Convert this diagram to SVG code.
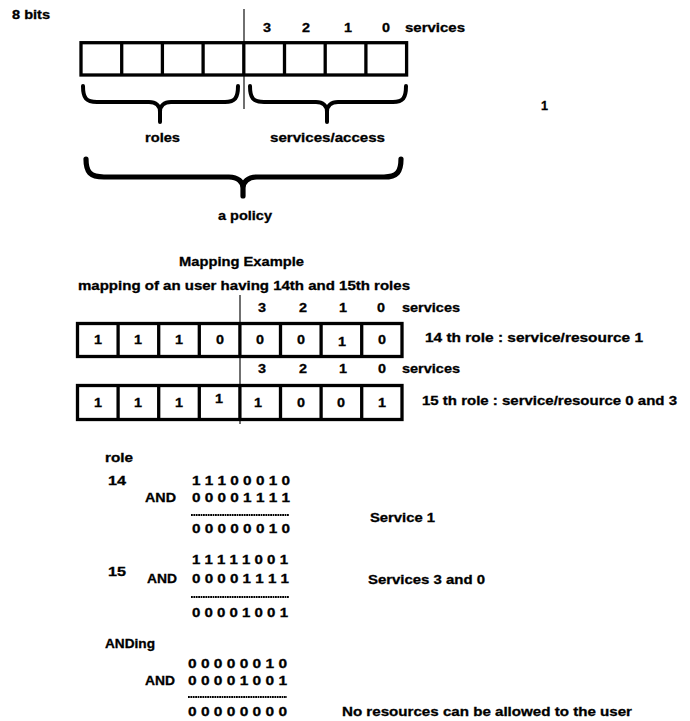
<svg xmlns="http://www.w3.org/2000/svg" width="690" height="721" viewBox="0 0 690 721">
  <style>
    text { font-family: "Liberation Sans", Arial, sans-serif; font-weight: bold; font-size: 12.5px; fill: #000; stroke: #000; stroke-width: 0.3px; }
    .cell { fill: #fff; stroke: #000; stroke-width: 3.3; }
    .div { stroke: #000; stroke-width: 3.3; }
    .split { stroke: #222; stroke-width: 1.3; }
    .brace { fill: none; stroke: #000; stroke-width: 4; stroke-linecap: round; stroke-linejoin: round; }
    .brace-big { fill: none; stroke: #000; stroke-width: 5.2; stroke-linecap: round; stroke-linejoin: round; }
    .rule { stroke: #000; stroke-width: 2; stroke-dasharray: 1.8 0.6; }
  </style>
  <rect width="690" height="721" fill="#fff"/>

  <!-- generic 8-bit policy layout -->
  <g id="policy-layout">
    <text x="12" y="19" textLength="38" lengthAdjust="spacingAndGlyphs">8 bits</text>
    <line class="split" x1="244" y1="9" x2="244" y2="109"/>
    <text x="263" y="32" textLength="8" lengthAdjust="spacingAndGlyphs">3</text>
    <text x="302" y="32" textLength="8" lengthAdjust="spacingAndGlyphs">2</text>
    <text x="344" y="32" textLength="8" lengthAdjust="spacingAndGlyphs">1</text>
    <text x="382" y="32" textLength="8" lengthAdjust="spacingAndGlyphs">0</text>
    <text x="405" y="32" textLength="60" lengthAdjust="spacingAndGlyphs">services</text>
    <rect class="cell" x="81" y="42.7" width="325.6" height="32.3"/>
    <g class="div">
      <line x1="121.7" y1="42.7" x2="121.7" y2="75"/>
      <line x1="162.4" y1="42.7" x2="162.4" y2="75"/>
      <line x1="203.1" y1="42.7" x2="203.1" y2="75"/>
      <line x1="243.8" y1="42.7" x2="243.8" y2="75"/>
      <line x1="284.5" y1="42.7" x2="284.5" y2="75"/>
      <line x1="325.2" y1="42.7" x2="325.2" y2="75"/>
      <line x1="365.9" y1="42.7" x2="365.9" y2="75"/>
    </g>
  </g>

  <g id="brace-roles">
    <path class="brace" d="M83,86 C83,98 86,102 97,102 L149,102 C156,102 160,106 160,112 L160,122 M160,112 C160,106 164,102 171,102 L225,102 C235,102 238,98 238,86"/>
    <text x="145" y="142" textLength="35" lengthAdjust="spacingAndGlyphs">roles</text>
  </g>
  <g id="brace-services">
    <path class="brace" d="M250,86 C250,98 253,102 264,102 L316,102 C323,102 327,106 327,112 L327,122 M327,112 C327,106 331,102 338,102 L393,102 C403,102 406,98 406,86"/>
    <text x="270" y="142" textLength="115" lengthAdjust="spacingAndGlyphs">services/access</text>
  </g>
  <g id="brace-policy">
    <path class="brace-big" d="M86,159 C86,172 90,177 104,177 L229,177 C238,177 243,182 243,188 L243,196 M243,188 C243,182 248,177 257,177 L384,177 C397,177 401,172 401,159"/>
    <text x="218" y="220" textLength="54" lengthAdjust="spacingAndGlyphs">a policy</text>
  </g>
  <g id="figure-number">
    <text x="541" y="110" textLength="7" lengthAdjust="spacingAndGlyphs">1</text>
  </g>

  <!-- mapping example -->
  <g id="mapping-title">
    <text x="179" y="266" textLength="125" lengthAdjust="spacingAndGlyphs">Mapping Example</text>
    <text x="78" y="290" textLength="332" lengthAdjust="spacingAndGlyphs">mapping of an user having 14th and 15th roles</text>
  </g>

  <line class="split" x1="240" y1="295" x2="240" y2="424"/>

  <g id="role-14">
    <text x="258" y="312" textLength="8" lengthAdjust="spacingAndGlyphs">3</text>
    <text x="299" y="312" textLength="8" lengthAdjust="spacingAndGlyphs">2</text>
    <text x="339" y="312" textLength="8" lengthAdjust="spacingAndGlyphs">1</text>
    <text x="377" y="312" textLength="8" lengthAdjust="spacingAndGlyphs">0</text>
    <text x="402" y="312" textLength="58" lengthAdjust="spacingAndGlyphs">services</text>
    <rect class="cell" x="77.5" y="323.5" width="324.5" height="33"/>
    <g class="div">
      <line x1="118.1" y1="323.5" x2="118.1" y2="356.5"/>
      <line x1="158.7" y1="323.5" x2="158.7" y2="356.5"/>
      <line x1="199.3" y1="323.5" x2="199.3" y2="356.5"/>
      <line x1="239.9" y1="323.5" x2="239.9" y2="356.5"/>
      <line x1="280.5" y1="323.5" x2="280.5" y2="356.5"/>
      <line x1="321.1" y1="323.5" x2="321.1" y2="356.5"/>
      <line x1="361.7" y1="323.5" x2="361.7" y2="356.5"/>
    </g>
    <text x="94" y="344" textLength="8" lengthAdjust="spacingAndGlyphs">1</text>
    <text x="134" y="344" textLength="8" lengthAdjust="spacingAndGlyphs">1</text>
    <text x="175" y="344" textLength="8" lengthAdjust="spacingAndGlyphs">1</text>
    <text x="216" y="344" textLength="8" lengthAdjust="spacingAndGlyphs">0</text>
    <text x="256" y="344" textLength="8" lengthAdjust="spacingAndGlyphs">0</text>
    <text x="297" y="344" textLength="8" lengthAdjust="spacingAndGlyphs">0</text>
    <text x="338" y="346" textLength="8" lengthAdjust="spacingAndGlyphs">1</text>
    <text x="378" y="344" textLength="8" lengthAdjust="spacingAndGlyphs">0</text>
    <text x="425" y="342" textLength="218" lengthAdjust="spacingAndGlyphs">14 th role :  service/resource 1</text>
  </g>

  <g id="role-15">
    <text x="258" y="373" textLength="8" lengthAdjust="spacingAndGlyphs">3</text>
    <text x="299" y="373" textLength="8" lengthAdjust="spacingAndGlyphs">2</text>
    <text x="339" y="373" textLength="8" lengthAdjust="spacingAndGlyphs">1</text>
    <text x="378" y="373" textLength="8" lengthAdjust="spacingAndGlyphs">0</text>
    <text x="402" y="373" textLength="58" lengthAdjust="spacingAndGlyphs">services</text>
    <rect class="cell" x="77.5" y="385.5" width="324.5" height="34"/>
    <g class="div">
      <line x1="118.1" y1="385.5" x2="118.1" y2="419.5"/>
      <line x1="158.7" y1="385.5" x2="158.7" y2="419.5"/>
      <line x1="199.3" y1="385.5" x2="199.3" y2="419.5"/>
      <line x1="239.9" y1="385.5" x2="239.9" y2="419.5"/>
      <line x1="280.5" y1="385.5" x2="280.5" y2="419.5"/>
      <line x1="321.1" y1="385.5" x2="321.1" y2="419.5"/>
      <line x1="361.7" y1="385.5" x2="361.7" y2="419.5"/>
    </g>
    <text x="94" y="407" textLength="8" lengthAdjust="spacingAndGlyphs">1</text>
    <text x="134" y="407" textLength="8" lengthAdjust="spacingAndGlyphs">1</text>
    <text x="175" y="407" textLength="8" lengthAdjust="spacingAndGlyphs">1</text>
    <text x="215" y="403" textLength="8" lengthAdjust="spacingAndGlyphs">1</text>
    <text x="254" y="407" textLength="8" lengthAdjust="spacingAndGlyphs">1</text>
    <text x="297" y="407" textLength="8" lengthAdjust="spacingAndGlyphs">0</text>
    <text x="337" y="407" textLength="8" lengthAdjust="spacingAndGlyphs">0</text>
    <text x="378" y="407" textLength="8" lengthAdjust="spacingAndGlyphs">1</text>
    <text x="422" y="405" textLength="255" lengthAdjust="spacingAndGlyphs">15 th role : service/resource 0 and 3</text>
  </g>

  <!-- bitwise AND working -->
  <g id="and-14">
    <text x="105" y="462" textLength="28" lengthAdjust="spacingAndGlyphs">role</text>
    <text x="108" y="485" textLength="18" lengthAdjust="spacingAndGlyphs">14</text>
    <text x="192" y="485" textLength="98" lengthAdjust="spacingAndGlyphs">1 1 1 0 0 0 1 0</text>
    <text x="145" y="502" textLength="31" lengthAdjust="spacingAndGlyphs">AND</text>
    <text x="192" y="502" textLength="98" lengthAdjust="spacingAndGlyphs">0 0 0 0 1 1 1 1</text>
    <line class="rule" x1="191" y1="515" x2="289" y2="515"/>
    <text x="192" y="533" textLength="98" lengthAdjust="spacingAndGlyphs">0 0 0 0 0 0 1 0</text>
    <text x="370" y="522" textLength="65" lengthAdjust="spacingAndGlyphs">Service 1</text>
  </g>

  <g id="and-15">
    <text x="108" y="576" textLength="18" lengthAdjust="spacingAndGlyphs">15</text>
    <text x="192" y="564" textLength="96" lengthAdjust="spacingAndGlyphs">1 1 1 1 1 0 0 1</text>
    <text x="147" y="583" textLength="30" lengthAdjust="spacingAndGlyphs">AND</text>
    <text x="192" y="583" textLength="97" lengthAdjust="spacingAndGlyphs">0 0 0 0 1 1 1 1</text>
    <line class="rule" x1="191" y1="597" x2="289" y2="597"/>
    <text x="192" y="617" textLength="96" lengthAdjust="spacingAndGlyphs">0 0 0 0 1 0 0 1</text>
    <text x="368" y="584" textLength="117" lengthAdjust="spacingAndGlyphs">Services 3 and 0</text>
  </g>

  <g id="and-combined">
    <text x="105" y="648" textLength="50" lengthAdjust="spacingAndGlyphs">ANDing</text>
    <text x="188" y="668" textLength="99" lengthAdjust="spacingAndGlyphs">0 0 0 0 0 0 1 0</text>
    <text x="145" y="685" textLength="30" lengthAdjust="spacingAndGlyphs">AND</text>
    <text x="188" y="685" textLength="99" lengthAdjust="spacingAndGlyphs">0 0 0 0 1 0 0 1</text>
    <line class="rule" x1="188" y1="697" x2="287" y2="697"/>
    <text x="188" y="716" textLength="99" lengthAdjust="spacingAndGlyphs">0 0 0 0 0 0 0 0</text>
    <text x="342" y="716" textLength="290" lengthAdjust="spacingAndGlyphs">No resources can be allowed to the user</text>
  </g>
</svg>
